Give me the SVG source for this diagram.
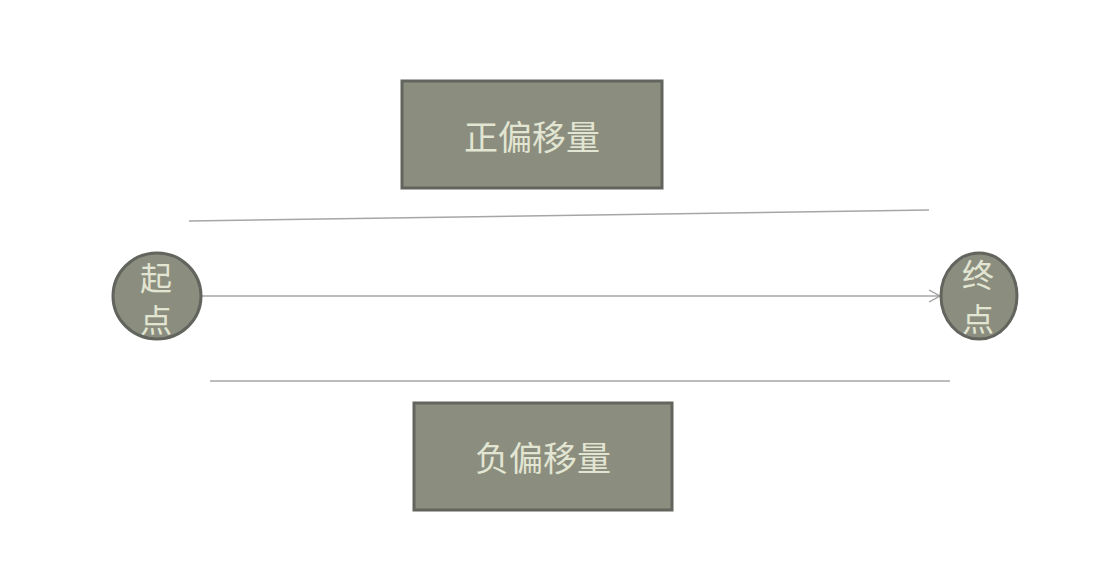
<svg xmlns="http://www.w3.org/2000/svg" width="1114" height="562" viewBox="0 0 1114 562">
<defs>
<style>
.box{fill:#8b8e7f;stroke:#62655d;stroke-width:3}
.circ{fill:#8b8e7f;stroke:#62655d;stroke-width:3}
.lbl{font-family:"Noto Sans CJK SC",sans-serif;fill:#e2e5d2;text-anchor:middle;dominant-baseline:central}
.line{stroke:#a6a6a6;stroke-width:1.5;fill:none}
</style>
<marker id="arr" markerWidth="14" markerHeight="14" refX="12" refY="7" orient="auto" markerUnits="userSpaceOnUse">
<path d="M1,1 L12,7 L1,13" fill="none" stroke="#9a9a9a" stroke-width="1.3"/>
</marker>
</defs>
<rect width="1114" height="562" fill="#ffffff"/>
<g id="connectors">
<line class="line" x1="189" y1="221" x2="929" y2="210"/>
<line class="line" x1="210" y1="381" x2="950" y2="381"/>
<line class="line" x1="202" y1="296" x2="940" y2="296" marker-end="url(#arr)"/>
</g>
<g id="pos">
<rect class="box" x="402" y="81" width="260" height="107"/>
<text class="lbl" x="532" y="135" font-size="34">正偏移量</text>
</g>
<g id="neg">
<rect class="box" x="414" y="403" width="258" height="107"/>
<text class="lbl" x="543" y="456" font-size="34">负偏移量</text>
</g>
<g id="start">
<ellipse class="circ" cx="157" cy="296" rx="44" ry="43"/>
<text class="lbl" x="156" y="276" font-size="32">起</text>
<text class="lbl" x="156" y="318" font-size="32">点</text>
</g>
<g id="end">
<ellipse class="circ" cx="979" cy="296" rx="38" ry="43"/>
<text class="lbl" x="978" y="273" font-size="32">终</text>
<text class="lbl" x="978" y="317" font-size="32">点</text>
</g>
</svg>
